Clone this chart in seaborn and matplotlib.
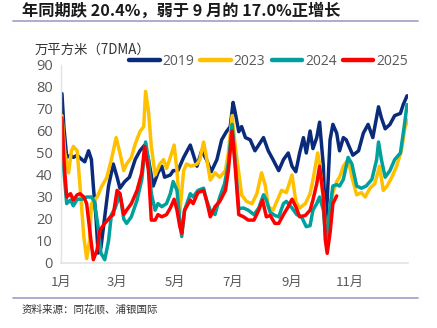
import matplotlib
matplotlib.use("Agg")
import matplotlib.pyplot as plt
import seaborn as sns
import pandas as pd
from matplotlib.lines import Line2D

# ---- data (day of year, value in 万平方米, 7DMA) ----
days_2019 = [1, 3, 6, 10, 13, 17, 22, 25, 29, 32, 34, 37, 39, 42, 46, 50, 55, 59, 62, 67, 72, 78, 83, 88,
             92, 97, 102, 106, 109, 115, 118, 123, 129, 136, 143, 148, 153, 158, 164, 169, 174, 178, 181,
             183, 187, 190, 194, 199, 204, 210, 213, 218, 223, 229, 234, 239, 243, 247, 251, 255, 258, 262,
             265, 269, 272, 276, 278, 280, 283, 286, 290, 293, 297, 300, 302, 307, 313, 318, 323, 328, 334,
             337, 341, 346, 351, 357, 360, 364]
vals_2019 = [77, 62, 48, 49, 48, 49, 47, 46, 51, 47, 35, 19.5, 4.5, 7, 21, 35, 45, 39, 34, 37, 39, 47, 51, 53.6,
             47, 35, 41, 44, 39, 40, 42, 42, 48, 53.6, 44, 51, 47, 41.5, 47, 56, 59.7, 62, 73,
             69, 59.7, 62, 57, 56, 51, 55, 57, 51, 47, 42, 47, 50, 44, 41.5, 50, 57, 50, 60,
             52, 57, 64, 44, 16.5, 28.6, 56, 63, 59, 51, 57, 56, 54, 49, 51, 59, 63, 57, 71,
             66, 61, 63, 67, 68, 72, 76]

days_2023 = [1, 4, 8, 11, 13, 17, 20, 24, 27, 30, 32, 38, 43, 48, 53, 58, 62, 66, 69, 74, 78, 83, 87, 89,
             92, 95, 99, 104, 108, 111, 115, 119, 122, 125, 129, 132, 137, 143, 146, 150, 153, 157, 162,
             167, 173, 176, 180, 183, 187, 190, 195, 201, 206, 211, 215, 218, 223, 229, 232, 237, 243, 247,
             251, 257, 262, 265, 270, 272, 276, 279, 283, 286, 290, 293, 297, 302, 306, 311, 316, 320, 325,
             330, 335, 339, 343, 348, 353, 358, 362, 365]
vals_2023 = [67, 50, 41, 51, 53, 51, 35, 12, 2, 10, 27, 30, 35, 38.7, 47, 57, 50, 42, 45, 48, 54, 59.7, 62, 78,
             69, 53, 40, 45, 47, 43, 48, 53.6, 42, 23, 42, 45, 44, 45, 47, 55, 48, 37.7, 41,
             39, 42, 50, 67, 54, 41, 31, 28, 27, 31.5, 41, 35, 25.6, 24, 30, 33, 32, 40, 28,
             25, 27, 31.5, 37.7, 50, 45, 28.6, 10.6, 22.6, 32, 37, 39, 44, 47, 39, 31, 32, 30, 34,
             36, 44, 33, 35, 39, 44, 51, 62, 65]

days_2024 = [1, 3, 6, 10, 13, 17, 22, 27, 32, 35, 39, 42, 46, 50, 53, 57, 62, 66, 69, 74, 80, 85, 89,
             92, 95, 99, 102, 106, 111, 115, 118, 122, 125, 127, 130, 136, 139, 144, 150, 153, 157, 162,
             167, 172, 176, 180, 183, 187, 192, 197, 203, 208, 213, 216, 220, 225, 229, 234, 237, 243,
             248, 253, 258, 262, 265, 269, 272, 276, 279, 283, 286, 290, 293, 297, 302, 306, 311, 316,
             321, 327, 332, 334, 337, 341, 346, 351, 357, 361, 364]
vals_2024 = [65, 42, 27, 28.6, 26, 29, 29, 30, 30, 28, 16.5, 4.5, 1.5, 10, 22, 25, 31.5, 20, 18, 21, 28.6, 38, 55,
             47, 31.5, 24, 27, 25.6, 27, 31.5, 37, 33, 19.5, 12, 24, 31.5, 30, 33, 34, 28.6, 24, 22,
             30, 36, 45, 63, 47, 24.7, 25, 24, 22, 25, 31, 28.6, 23, 21.6, 21, 27, 28, 25,
             22, 21, 16.5, 17, 24, 27, 30, 24, 9, 25.6, 35, 35.6, 35, 38, 48, 45, 35, 34,
             35, 38, 47, 55, 47, 39, 42, 47, 50, 62, 72]

days_2025 = [1, 3, 6, 10, 13, 17, 20, 24, 27, 31, 34, 38, 41, 46, 52, 55, 59, 62, 66, 69, 74, 80, 85, 88,
             92, 95, 99, 102, 106, 111, 115, 119, 122, 125, 127, 130, 136, 139, 144, 150, 153, 157, 162,
             167, 173, 176, 180, 183, 187, 192, 197, 203, 208, 212, 216, 220, 225, 229, 234, 239, 243,
             247, 251, 257, 262, 265, 269, 272, 276, 278, 280, 283, 286, 290]
vals_2025 = [66, 47, 30, 31.5, 28.6, 31, 31.5, 30, 27, 12, 1.5, 6, 15, 18, 21, 22, 33, 31.5, 22, 24, 27, 33, 41, 53,
             42, 19.5, 19.5, 22, 21, 22, 25, 29, 24, 16.5, 13.5, 24, 28.6, 27, 32, 33, 28.6, 21, 25.6,
             28, 33, 42, 60, 45, 22, 21, 19.5, 19.5, 24, 28.6, 21, 21.6, 18, 18, 22, 25.6, 29,
             25.6, 21, 21.6, 24, 28.6, 36, 44, 30, 10.6, 4.4, 13.6, 27, 30.5]

series_names = ["2019", "2023", "2024", "2025"]
series_colors = ["#0A2A7A", "#FFC000", "#00A19C", "#FF0000"]
month_days = [0, 59, 120, 181, 243, 304]
month_labels = ["1月", "3月", "5月", "7月", "9月", "11月"]
y_ticks = [0, 10, 20, 30, 40, 50, 60, 70, 80, 90]

title_text = "年同期跌 20.4%，弱于 9 月的 17.0%正增长"
unit_text = "万平方米（7DMA）"
source_text = "资料来源：同花顺、浦银国际"

# ---- build long table ----
frames = []
for name, d, v in zip(series_names, [days_2019, days_2023, days_2024, days_2025],
                      [vals_2019, vals_2023, vals_2024, vals_2025]):
    frames.append(pd.DataFrame({"day": d, "value": v, "year": name}))
df = pd.concat(frames, ignore_index=True)

sns.set_theme(style="white")
cjk = ["Noto Sans CJK SC", "DejaVu Sans"]
plt.rcParams["font.family"] = cjk

fig = plt.figure(figsize=(4.37, 3.28), dpi=100)
ax = fig.add_axes([61 / 437, 1 - 263 / 328, (408 - 61) / 437, (263 - 65) / 328])

sns.lineplot(data=df, x="day", y="value", hue="year", hue_order=series_names,
             palette=dict(zip(series_names, series_colors)), linewidth=2.5,
             ax=ax, legend=False, sort=True, estimator=None)

ax.set_xlim(0, 365)
ax.set_ylim(0, 90)
ax.set_xticks(month_days)
ax.set_xticklabels(month_labels)
ax.set_yticks(y_ticks)
ax.set_xlabel("")
ax.set_ylabel("")
ax.tick_params(axis="x", length=0, pad=9, labelsize=9.5, labelcolor="#595959")
ax.tick_params(axis="y", length=0, pad=6, labelsize=10.5, labelcolor="#595959")
for lbl in ax.get_yticklabels():
    lbl.set_family(["Open Sans", "DejaVu Sans"])
for s in ["top", "right"]:
    ax.spines[s].set_visible(False)
ax.spines["left"].set_color("#E3E3E3")
ax.spines["bottom"].set_color("#E3E3E3")
ax.spines["left"].set_linewidth(1.0)
ax.spines["bottom"].set_linewidth(1.2)

handles = [Line2D([0], [0], color=c, lw=3.2) for c in series_colors]
leg = ax.legend(handles, series_names, loc="center right", bbox_to_anchor=(1.0, 1.02),
                ncol=4, frameon=False, fontsize=10, handlelength=2.2, handletextpad=0.2,
                columnspacing=0.45, borderaxespad=0, borderpad=0)
for t in leg.get_texts():
    t.set_color("#595959")
    t.set_family(["Open Sans", "DejaVu Sans"])

fig.text(22 / 437, 1 - 11 / 328, title_text, fontsize=11.7, fontweight="bold",
         color="#1a1a1a", va="center", ha="left", family=cjk)
fig.add_artist(Line2D([13 / 437, 418 / 437], [1 - 20.5 / 328, 1 - 20.5 / 328],
                      color="#A9A4CC", lw=1.3, transform=fig.transFigure))
fig.text(35 / 437, 1 - 50 / 328, unit_text, fontsize=9.6, color="#333333",
         va="center", ha="left", family=cjk)
fig.add_artist(Line2D([13 / 437, 418 / 437], [1 - 298 / 328, 1 - 298 / 328],
                      color="#A9A4CC", lw=1.3, transform=fig.transFigure))
fig.text(22 / 437, 1 - 309 / 328, source_text, fontsize=7.6, color="#333333",
         va="center", ha="left", family=cjk)

fig.savefig("out.png", dpi=100)
